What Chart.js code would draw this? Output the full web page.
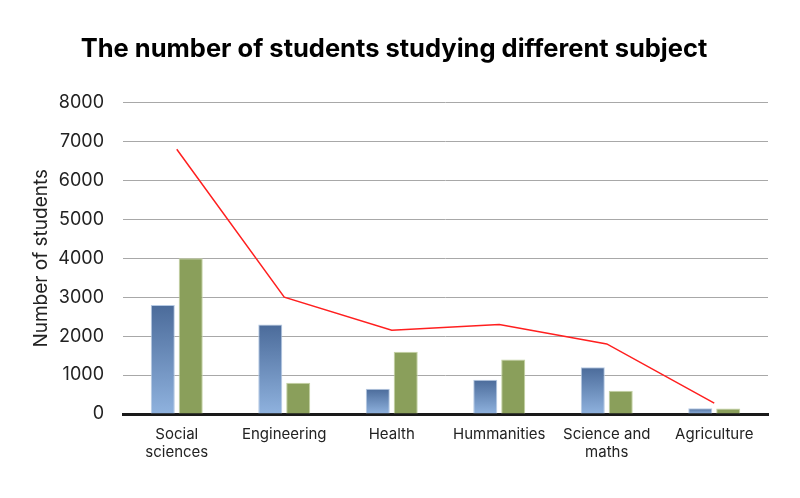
<!DOCTYPE html>
<html>
<head>
<meta charset="utf-8">
<script src="https://cdn.jsdelivr.net/npm/chart.js@4"></script>
<style>
  html, body { margin: 0; padding: 0; background: #fff; }
  #wrap { width: 800px; height: 498px; }
</style>
</head>
<body>
<div id="wrap"><canvas id="chart" width="800" height="498"></canvas></div>
<script>
// --- Data ---
const subjects = [['Social', 'sciences'], 'Engineering', 'Health', 'Hummanities', ['Science and', 'maths'], 'Agriculture'];
const blueValues = [2800, 2300, 650, 880, 1200, 150];
const greenValues = [4000, 800, 1600, 1400, 600, 140];
const lineValues = [6800, 3000, 2150, 2300, 1800, 280];
const yTicks = [0, 1000, 2000, 3000, 4000, 5000, 6000, 7000, 8000];

// vertical gradient per bar, dark top -> light bottom
function blueGradient(context) {
    const chart = context.chart;
    const { ctx, chartArea, scales } = chart;
    if (!chartArea || context.dataIndex === undefined) return '#6a8cbc';
    const value = context.dataset.data[context.dataIndex];
    const top = scales.y.getPixelForValue(value);
    const bottom = scales.y.getPixelForValue(0);
    const g = ctx.createLinearGradient(0, top, 0, bottom);
    g.addColorStop(0, '#4b6b9a');
    g.addColorStop(1, '#8fb2de');
    return g;
}

const ctx = document.getElementById('chart').getContext('2d');
new Chart(ctx, {
    data: {
        labels: subjects,
        datasets: [
            {
                type: 'line',
                label: 'Total',
                data: lineValues,
                borderColor: '#ff1f1f',
                borderWidth: 1.5,
                pointRadius: 0,
                fill: false,
                tension: 0,
                order: 0
            },
            {
                type: 'bar',
                label: 'Series 1',
                data: blueValues,
                backgroundColor: blueGradient,
                borderColor: '#b6cae4',
                borderWidth: 1,
                order: 1
            },
            {
                type: 'bar',
                label: 'Series 2',
                data: greenValues,
                backgroundColor: '#8a9f5b',
                borderColor: '#c4d2a2',
                borderWidth: 1,
                order: 1
            }
        ]
    },
    options: {
        responsive: false,
        animation: false,
        layout: { padding: { left: 20, right: 32, top: 8, bottom: 26 } },
        datasets: {
            bar: { categoryPercentage: 0.52, barPercentage: 0.86 }
        },
        plugins: {
            legend: { display: false },
            tooltip: { enabled: false },
            title: {
                display: true,
                text: 'The number of students studying different subject',
                color: '#000',
                font: { family: 'Inter', size: 25.5, weight: 'bold' },
                padding: { top: 26, bottom: 38 }
            }
        },
        scales: {
            x: {
                grid: { display: false, drawTicks: false },
                border: { display: true, color: '#1a1a1a', width: 3 },
                ticks: {
                    color: '#222',
                    font: { family: 'Inter', size: 15 },
                    padding: 11,
                    maxRotation: 0,
                    autoSkip: false
                }
            },
            y: {
                min: 0,
                max: 8000,
                afterBuildTicks: axis => { axis.ticks = yTicks.map(v => ({ value: v })); },
                afterFit: axis => { axis.width = 103; },
                border: { display: false },
                grid: {
                    color: '#a8a8a8',
                    lineWidth: 1,
                    drawTicks: false
                },
                ticks: {
                    color: '#222',
                    font: { family: 'Inter', size: 18 },
                    padding: 19,
                    callback: value => String(value)
                },
                title: {
                    display: true,
                    text: 'Number of students',
                    color: '#222',
                    font: { family: 'Inter', size: 19 },
                    padding: { top: 10, bottom: 0 }
                }
            }
        }
    }
});
</script>
</body>
</html>
